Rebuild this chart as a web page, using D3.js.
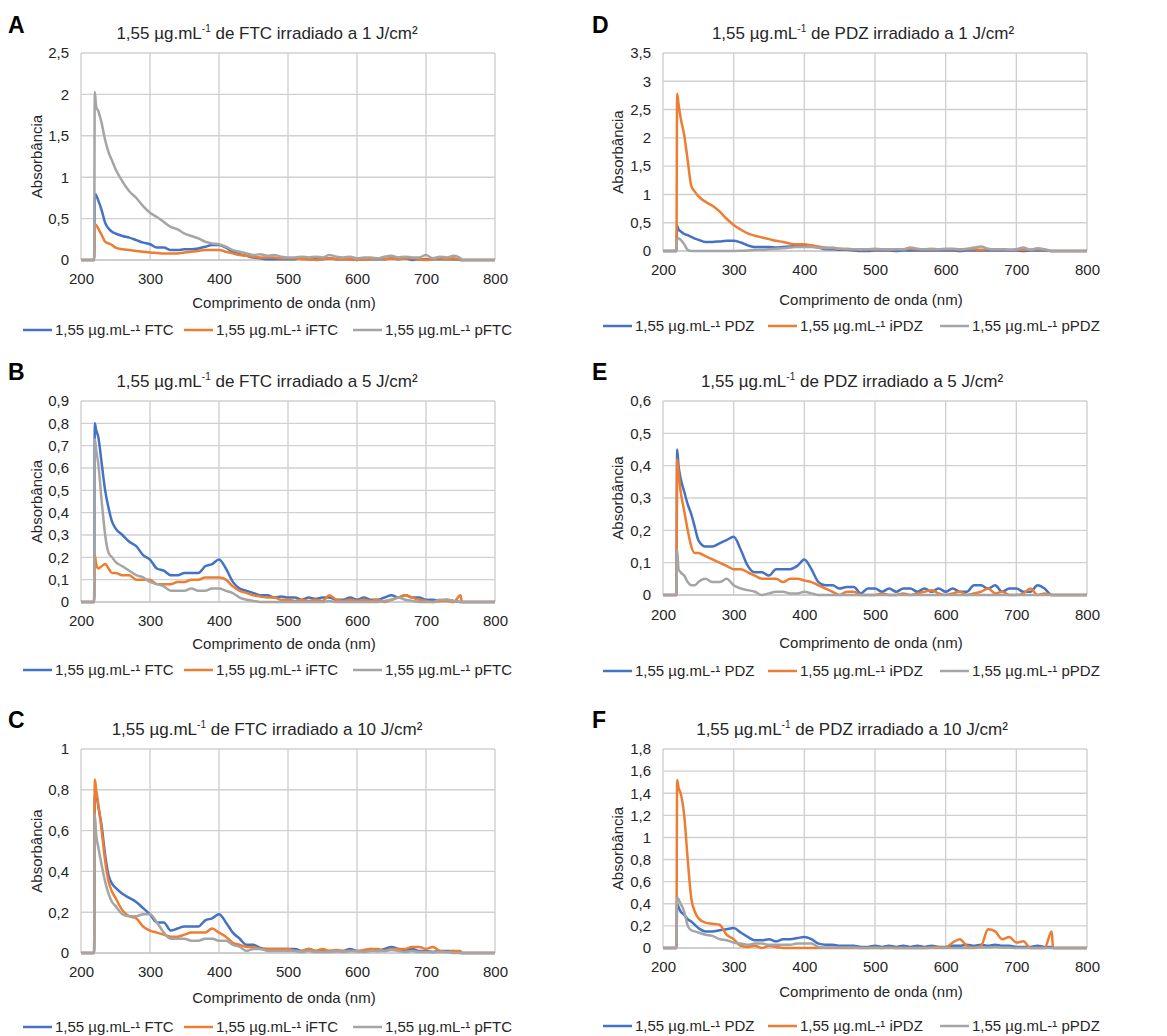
<!DOCTYPE html>
<html>
<head>
<meta charset="utf-8">
<script src="https://cdn.jsdelivr.net/npm/d3@7"></script>
<style>
  body { margin: 0; background: #fff; }
  svg { font-family: Arial, "Liberation Sans", sans-serif; }
</style>
</head>
<body>
<div id="chart"></div>
<script>
// wavelength grid (nm): 200, 219, then 220..250 fine, 260..750 every 10, then 752, 800
const wavelengths = [200, 219,
  220, 222, 225, 230, 235, 240, 245, 250,
  260, 270, 280, 290, 300, 310, 320, 330, 340, 350,
  360, 370, 380, 390, 400, 410, 420, 430, 440, 450,
  460, 470, 480, 490, 500, 510, 520, 530, 540, 550,
  560, 570, 580, 590, 600, 610, 620, 630, 640, 650,
  660, 670, 680, 690, 700, 710, 720, 730, 740, 750,
  752, 800];

const xTicks = [200, 300, 400, 500, 600, 700, 800];

// A - FTC 1 J/cm2
const aFTC = [0, 0,
  0.80, 0.78, 0.72, 0.60, 0.45, 0.38, 0.34, 0.32,
  0.29, 0.27, 0.24, 0.21, 0.19, 0.15, 0.15, 0.12, 0.12, 0.13,
  0.13, 0.14, 0.16, 0.18, 0.18, 0.15, 0.10, 0.07, 0.05, 0.03,
  0.02, 0.01, 0.01, 0.01, 0.01, 0.01, 0.02, 0.01, 0.01, 0.01,
  0.02, 0.01, 0.01, 0.01, 0.00, 0.01, 0.01, 0.01, 0.01, 0.02,
  0.01, 0.02, 0.00, 0.01, 0.01, 0.01, 0.01, 0.01, 0.01, 0.00,
  0, 0];
const aiFTC = [0, 0,
  0.43, 0.42, 0.38, 0.30, 0.22, 0.20, 0.18, 0.15,
  0.13, 0.12, 0.11, 0.10, 0.09, 0.085, 0.08, 0.08, 0.08, 0.09,
  0.10, 0.11, 0.12, 0.12, 0.12, 0.10, 0.08, 0.06, 0.05, 0.04,
  0.03, 0.03, 0.03, 0.02, 0.02, 0.02, 0.01, 0.01, 0.00, 0.01,
  0.02, 0.01, 0.01, 0.01, 0.00, 0.01, 0.01, 0.02, 0.01, 0.02,
  0.01, 0.02, 0.02, 0.01, 0.00, 0.01, 0.02, 0.01, 0.02, 0.00,
  0, 0];
const apFTC = [0, 0,
  2.03, 1.85, 1.80, 1.65, 1.45, 1.30, 1.20, 1.10,
  0.95, 0.83, 0.75, 0.65, 0.57, 0.52, 0.46, 0.40, 0.37, 0.32,
  0.29, 0.26, 0.22, 0.20, 0.19, 0.16, 0.12, 0.10, 0.08, 0.06,
  0.07, 0.05, 0.06, 0.04, 0.03, 0.03, 0.04, 0.03, 0.04, 0.03,
  0.06, 0.04, 0.03, 0.04, 0.02, 0.03, 0.03, 0.02, 0.04, 0.05,
  0.03, 0.04, 0.03, 0.03, 0.06, 0.02, 0.04, 0.03, 0.05, 0.02,
  0, 0];

// B - FTC 5 J/cm2
const bFTC = [0, 0,
  0.80, 0.77, 0.74, 0.62, 0.50, 0.42, 0.36, 0.33,
  0.30, 0.27, 0.25, 0.21, 0.19, 0.15, 0.14, 0.12, 0.12, 0.13,
  0.13, 0.13, 0.16, 0.17, 0.19, 0.15, 0.09, 0.06, 0.05, 0.04,
  0.03, 0.03, 0.02, 0.025, 0.02, 0.02, 0.01, 0.02, 0.015, 0.02,
  0.02, 0.01, 0.01, 0.02, 0.01, 0.02, 0.01, 0.01, 0.02, 0.03,
  0.02, 0.03, 0.02, 0.02, 0.01, 0.01, 0.005, 0.01, 0.005, 0.00,
  0, 0];
const biFTC = [0, 0,
  0.21, 0.17, 0.15, 0.16, 0.17, 0.15, 0.13, 0.13,
  0.12, 0.12, 0.10, 0.10, 0.10, 0.08, 0.08, 0.08, 0.09, 0.09,
  0.10, 0.10, 0.11, 0.11, 0.11, 0.10, 0.07, 0.05, 0.04, 0.03,
  0.025, 0.02, 0.02, 0.01, 0.01, 0.005, 0.01, 0.005, 0.01, 0.005,
  0.03, 0.01, 0.005, 0.01, 0.005, 0.01, 0.005, 0.01, 0.00, 0.01,
  0.02, 0.03, 0.02, 0.01, 0.005, 0.00, 0.005, 0.005, 0.00, 0.03,
  0, 0];
const bpFTC = [0, 0,
  0.73, 0.68, 0.62, 0.45, 0.30, 0.22, 0.20, 0.18,
  0.16, 0.14, 0.12, 0.11, 0.09, 0.08, 0.07, 0.05, 0.05, 0.05,
  0.06, 0.05, 0.05, 0.06, 0.06, 0.05, 0.04, 0.02, 0.01, 0.005,
  0, 0, 0, 0, 0, 0, 0, 0, 0, 0,
  0.005, 0, 0, 0, 0, 0, 0, 0, 0.005, 0.01,
  0.02, 0.01, 0.005, 0, 0, 0, 0.01, 0.01, 0.005, 0,
  0, 0];

// C - FTC 10 J/cm2
const cFTC = [0, 0,
  0.78, 0.78, 0.72, 0.62, 0.48, 0.38, 0.34, 0.32,
  0.29, 0.27, 0.25, 0.22, 0.19, 0.15, 0.15, 0.11, 0.12, 0.13,
  0.13, 0.13, 0.16, 0.17, 0.19, 0.15, 0.10, 0.07, 0.04, 0.04,
  0.025, 0.02, 0.02, 0.02, 0.02, 0.02, 0.01, 0.02, 0.01, 0.01,
  0.01, 0.01, 0.01, 0.02, 0.01, 0.01, 0.02, 0.01, 0.02, 0.03,
  0.02, 0.01, 0.02, 0.01, 0.01, 0.005, 0.01, 0.01, 0.01, 0.00,
  0, 0];
const ciFTC = [0, 0,
  0.85, 0.80, 0.73, 0.60, 0.45, 0.35, 0.30, 0.27,
  0.21, 0.18, 0.17, 0.13, 0.11, 0.10, 0.09, 0.08, 0.08, 0.09,
  0.10, 0.10, 0.10, 0.12, 0.10, 0.08, 0.05, 0.04, 0.03, 0.03,
  0.02, 0.02, 0.02, 0.02, 0.02, 0.01, 0.01, 0.02, 0.01, 0.02,
  0.01, 0.015, 0.01, 0.01, 0.01, 0.015, 0.02, 0.02, 0.01, 0.02,
  0.02, 0.02, 0.03, 0.03, 0.02, 0.03, 0.01, 0.005, 0.01, 0.01,
  0, 0];
const cpFTC = [0, 0,
  0.68, 0.58, 0.52, 0.43, 0.35, 0.29, 0.25, 0.23,
  0.19, 0.18, 0.18, 0.19, 0.19, 0.15, 0.10, 0.07, 0.07, 0.07,
  0.06, 0.06, 0.07, 0.07, 0.06, 0.06, 0.04, 0.03, 0.01, 0.02,
  0.02, 0.01, 0.01, 0.01, 0.01, 0.01, 0.005, 0.01, 0.005, 0.005,
  0.005, 0.01, 0.005, 0.01, 0.01, 0.005, 0.01, 0.01, 0.01, 0.015,
  0.01, 0.005, 0.01, 0.005, 0.005, 0.005, 0.005, 0.005, 0, 0,
  0, 0];

// D - PDZ 1 J/cm2
const dPDZ = [0, 0,
  0.45, 0.38, 0.35, 0.30, 0.28, 0.25, 0.22, 0.20,
  0.16, 0.16, 0.17, 0.18, 0.18, 0.15, 0.10, 0.07, 0.07, 0.07,
  0.06, 0.07, 0.08, 0.09, 0.10, 0.08, 0.06, 0.03, 0.03, 0.02,
  0.02, 0.01, 0.00, 0.00, 0.01, 0.01, 0.01, 0.00, 0.01, 0.01,
  0.01, 0.01, 0.01, 0.01, 0.01, 0.01, 0.00, 0.01, 0.01, 0.01,
  0.01, 0.01, 0.01, 0.01, 0.01, 0.00, 0.01, 0.01, 0.01, 0.00,
  0, 0];
const diPDZ = [0, 0,
  2.78, 2.60, 2.35, 2.05, 1.60, 1.15, 1.05, 0.97,
  0.87, 0.80, 0.70, 0.57, 0.46, 0.38, 0.31, 0.27, 0.24, 0.21,
  0.18, 0.16, 0.13, 0.12, 0.12, 0.10, 0.08, 0.06, 0.05, 0.04,
  0.03, 0.03, 0.02, 0.03, 0.02, 0.03, 0.02, 0.03, 0.03, 0.04,
  0.03, 0.03, 0.02, 0.03, 0.03, 0.03, 0.02, 0.03, 0.03, 0.02,
  0.03, 0.02, 0.03, 0.02, 0.02, 0.02, 0.02, 0.03, 0.02, 0.00,
  0, 0];
const dpPDZ = [0, 0,
  0.22, 0.22, 0.20, 0.12, 0.02, 0.00, 0.00, 0.00,
  0, 0, 0, 0, 0, 0.005, 0.01, 0.02, 0.02, 0.03,
  0.04, 0.05, 0.06, 0.07, 0.07, 0.07, 0.06, 0.05, 0.06, 0.04,
  0.04, 0.03, 0.03, 0.03, 0.04, 0.03, 0.03, 0.03, 0.03, 0.06,
  0.04, 0.03, 0.04, 0.03, 0.04, 0.04, 0.03, 0.04, 0.06, 0.08,
  0.04, 0.03, 0.03, 0.02, 0.03, 0.06, 0.02, 0.05, 0.03, 0.00,
  0, 0];

// E - PDZ 5 J/cm2
const ePDZ = [0, 0,
  0.45, 0.40, 0.36, 0.32, 0.28, 0.25, 0.21, 0.17,
  0.15, 0.15, 0.16, 0.17, 0.18, 0.14, 0.09, 0.07, 0.07, 0.06,
  0.08, 0.08, 0.08, 0.09, 0.11, 0.08, 0.04, 0.03, 0.03, 0.02,
  0.025, 0.025, 0.005, 0.02, 0.02, 0.01, 0.02, 0.01, 0.02, 0.02,
  0.01, 0.02, 0.01, 0.02, 0.01, 0.02, 0.01, 0.01, 0.03, 0.03,
  0.02, 0.03, 0.01, 0.02, 0.02, 0.01, 0.01, 0.03, 0.02, 0.00,
  0, 0];
const eiPDZ = [0, 0,
  0.42, 0.38, 0.32, 0.26, 0.20, 0.15, 0.13, 0.13,
  0.12, 0.11, 0.10, 0.09, 0.08, 0.08, 0.07, 0.06, 0.05, 0.05,
  0.05, 0.04, 0.05, 0.05, 0.045, 0.04, 0.03, 0.02, 0.01, 0.00,
  0.01, 0.01, 0.00, 0.00, 0.00, 0.005, 0.00, 0.00, 0.005, 0.00,
  0.005, 0.01, 0.015, 0.005, 0.00, 0.005, 0.01, 0.00, 0.005, 0.01,
  0.02, 0.005, 0.01, 0.00, 0.00, 0.005, 0.02, 0.00, 0.005, 0.00,
  0, 0];
const epPDZ = [0, 0,
  0.14, 0.08, 0.07, 0.06, 0.04, 0.03, 0.03, 0.04,
  0.05, 0.04, 0.04, 0.05, 0.03, 0.02, 0.015, 0.01, 0.00, 0.005,
  0.01, 0.01, 0.005, 0.005, 0.01, 0.005, 0, 0, 0, 0,
  0, 0, 0, 0, 0, 0, 0, 0, 0, 0,
  0, 0, 0, 0, 0, 0, 0, 0, 0, 0,
  0, 0, 0, 0, 0, 0, 0, 0, 0, 0,
  0, 0];

// F - PDZ 10 J/cm2
const fPDZ = [0, 0,
  0.40, 0.37, 0.33, 0.30, 0.26, 0.24, 0.21, 0.18,
  0.15, 0.15, 0.16, 0.17, 0.18, 0.14, 0.10, 0.07, 0.07, 0.08,
  0.06, 0.08, 0.08, 0.09, 0.10, 0.08, 0.04, 0.03, 0.03, 0.02,
  0.02, 0.02, 0.01, 0.01, 0.02, 0.01, 0.02, 0.01, 0.02, 0.01,
  0.02, 0.01, 0.02, 0.01, 0.01, 0.02, 0.02, 0.03, 0.02, 0.03,
  0.02, 0.03, 0.02, 0.02, 0.01, 0.01, 0.01, 0.02, 0.01, 0.01,
  0, 0];
const fiPDZ = [0, 0,
  1.52, 1.45, 1.40, 1.20, 0.80, 0.45, 0.33, 0.27,
  0.23, 0.22, 0.21, 0.12, 0.08, 0.02, 0.01, 0.02, 0.00, 0.02,
  0.01, 0.00, 0.00, 0, 0, 0, 0, 0, 0, 0,
  0, 0, 0, 0, 0, 0, 0.005, 0, 0, 0,
  0, 0, 0.005, 0.01, 0.005, 0.05, 0.08, 0.02, 0.005, 0.02,
  0.17, 0.15, 0.08, 0.10, 0.05, 0.06, 0.00, 0.00, 0.00, 0.15,
  0, 0];
const fpPDZ = [0, 0,
  0.46, 0.44, 0.40, 0.33, 0.20, 0.16, 0.15, 0.14,
  0.12, 0.11, 0.08, 0.07, 0.05, 0.04, 0.03, 0.04, 0.04, 0.03,
  0.03, 0.03, 0.03, 0.04, 0.04, 0.04, 0.01, 0.005, 0.005, 0.005,
  0.005, 0.005, 0, 0, 0.005, 0, 0, 0, 0, 0,
  0, 0, 0, 0, 0, 0, 0, 0, 0, 0.005,
  0.005, 0.01, 0.005, 0.005, 0, 0, 0, 0, 0, 0,
  0, 0];

const ftcNames = ["1,55 µg.mL-¹ FTC", "1,55 µg.mL-¹ iFTC", "1,55 µg.mL-¹ pFTC"];
const pdzNames = ["1,55 µg.mL-¹ PDZ", "1,55 µg.mL-¹ iPDZ", "1,55 µg.mL-¹ pPDZ"];
const colors = ["#4472C4", "#ED7D31", "#A5A5A5"];

const panels = [
  { letter: "A", drug: "FTC", dose: "1", yMax: 2.5, yStep: 0.5, series: [aFTC, aiFTC, apFTC], names: ftcNames,
    left: 81, right: 495, top: 53, bottom: 260, titleX: 267, letterX: 8, letterY: 33, tickDy: 24, axDy: 48, legDy: 70, yLabX: 37 },
  { letter: "B", drug: "FTC", dose: "5", yMax: 0.9, yStep: 0.1, series: [bFTC, biFTC, bpFTC], names: ftcNames,
    left: 81, right: 495, top: 401, bottom: 602, titleX: 267, letterX: 8, letterY: 380, tickDy: 24, axDy: 47, legDy: 68, yLabX: 37 },
  { letter: "C", drug: "FTC", dose: "10", yMax: 1, yStep: 0.2, series: [cFTC, ciFTC, cpFTC], names: ftcNames,
    left: 81, right: 495, top: 749, bottom: 953, titleX: 267, letterX: 8, letterY: 728, tickDy: 24, axDy: 50, legDy: 74, yLabX: 37 },
  { letter: "D", drug: "PDZ", dose: "1", yMax: 3.5, yStep: 0.5, series: [dPDZ, diPDZ, dpPDZ], names: pdzNames,
    left: 663, right: 1087, top: 53, bottom: 251, titleX: 863, letterX: 592, letterY: 33, tickDy: 24, axDy: 54, legDy: 75, yLabX: 618 },
  { letter: "E", drug: "PDZ", dose: "5", yMax: 0.6, yStep: 0.1, series: [ePDZ, eiPDZ, epPDZ], names: pdzNames,
    left: 663, right: 1087, top: 401, bottom: 595, titleX: 852, letterX: 592, letterY: 380, tickDy: 25, axDy: 53, legDy: 76, yLabX: 618 },
  { letter: "F", drug: "PDZ", dose: "10", yMax: 1.8, yStep: 0.2, series: [fPDZ, fiPDZ, fpPDZ], names: pdzNames,
    left: 663, right: 1087, top: 749, bottom: 948, titleX: 852, letterX: 592, letterY: 728, tickDy: 24, axDy: 49, legDy: 78, yLabX: 618 }
];

const width = 1167, height = 1036;
const svg = d3.select("#chart").append("svg")
  .attr("width", width)
  .attr("height", height);

const fmt = v => String(+v.toFixed(1)).replace(".", ",");
const textColor = "#262626";
const fontFam = "Arial, 'Liberation Sans', sans-serif";

panels.forEach(p => {
  const x = d3.scaleLinear().domain([200, 800]).range([p.left, p.right]);
  const y = d3.scaleLinear().domain([0, p.yMax]).range([p.bottom, p.top]);
  const yTicks = d3.range(0, p.yMax + p.yStep / 2, p.yStep);
  const g = svg.append("g");

  // gridlines
  g.append("g").selectAll("line").data(yTicks.slice(1)).enter().append("line")
    .attr("x1", p.left).attr("x2", p.right)
    .attr("y1", d => y(d)).attr("y2", d => y(d))
    .attr("stroke", "#d0d0d0").attr("stroke-width", 1.4);
  g.append("g").selectAll("line").data(xTicks).enter().append("line")
    .attr("x1", d => x(d)).attr("x2", d => x(d))
    .attr("y1", p.top).attr("y2", p.bottom)
    .attr("stroke", "#d0d0d0").attr("stroke-width", 1.4);
  g.append("line")
    .attr("x1", p.left).attr("x2", p.right)
    .attr("y1", y(0)).attr("y2", y(0))
    .attr("stroke", "#bfbfbf").attr("stroke-width", 1.6);

  // axes labels
  const yAxis = g.append("g")
    .attr("transform", `translate(${p.left},0)`)
    .call(d3.axisLeft(y).tickValues(yTicks).tickFormat(fmt).tickSize(0).tickPadding(12));
  yAxis.select(".domain").remove();
  yAxis.selectAll("text").style("font-size", "15px").style("font-family", fontFam).attr("fill", textColor);

  const xAxis = g.append("g")
    .attr("transform", `translate(0,${p.bottom})`)
    .call(d3.axisBottom(x).tickValues(xTicks).tickFormat(d3.format("d")).tickSize(0).tickPadding(0));
  xAxis.select(".domain").remove();
  xAxis.selectAll("text").attr("dy", null).attr("y", p.tickDy)
    .style("font-size", "15px").style("font-family", fontFam).attr("fill", textColor);

  // series
  const line = d3.line()
    .x((d, i) => x(wavelengths[i]))
    .y(d => y(d))
    .curve(d3.curveMonotoneX);
  p.series.forEach((s, i) => {
    g.append("path")
      .datum(s)
      .attr("d", line)
      .attr("fill", "none")
      .attr("stroke", colors[i])
      .attr("stroke-width", 2.5)
      .attr("stroke-linejoin", "round");
  });

  // title
  const t = g.append("text")
    .attr("x", p.titleX).attr("y", p.top - 14)
    .attr("text-anchor", "middle")
    .style("font-size", "17px").attr("fill", textColor);
  t.append("tspan").text("1,55 µg.mL");
  t.append("tspan").attr("dy", -7).style("font-size", "10px").text("-1");
  t.append("tspan").attr("dy", 7).text(` de ${p.drug} irradiado a ${p.dose} J/cm²`);

  // panel letter
  g.append("text")
    .attr("x", p.letterX).attr("y", p.letterY)
    .style("font-size", "23px").style("font-weight", "bold").attr("fill", "#000")
    .text(p.letter);

  // axis titles
  g.append("text")
    .attr("x", (p.left + p.right) / 2 - 4).attr("y", p.bottom + p.axDy)
    .attr("text-anchor", "middle")
    .style("font-size", "15px").attr("fill", textColor)
    .text("Comprimento de onda (nm)");
  g.append("text")
    .attr("transform", `translate(${p.yLabX + 5},${(p.top + p.bottom) / 2}) rotate(-90)`)
    .attr("text-anchor", "middle")
    .style("font-size", "15px").attr("fill", textColor)
    .text("Absorbância");

  // legend
  const legX = p.left < 300 ? [23, 184, 353] : [603, 768, 940];
  const ly = p.bottom + p.legDy;
  const leg = g.append("g");
  leg.selectAll("line").data(p.names).enter().append("line")
    .attr("x1", (d, i) => legX[i]).attr("x2", (d, i) => legX[i] + 29)
    .attr("y1", ly).attr("y2", ly)
    .attr("stroke", (d, i) => colors[i]).attr("stroke-width", 2.5);
  leg.selectAll("text").data(p.names).enter().append("text")
    .attr("x", (d, i) => legX[i] + 32).attr("y", ly + 5)
    .style("font-size", "15px").attr("fill", textColor)
    .text(d => d);
});
</script>
</body>
</html>
